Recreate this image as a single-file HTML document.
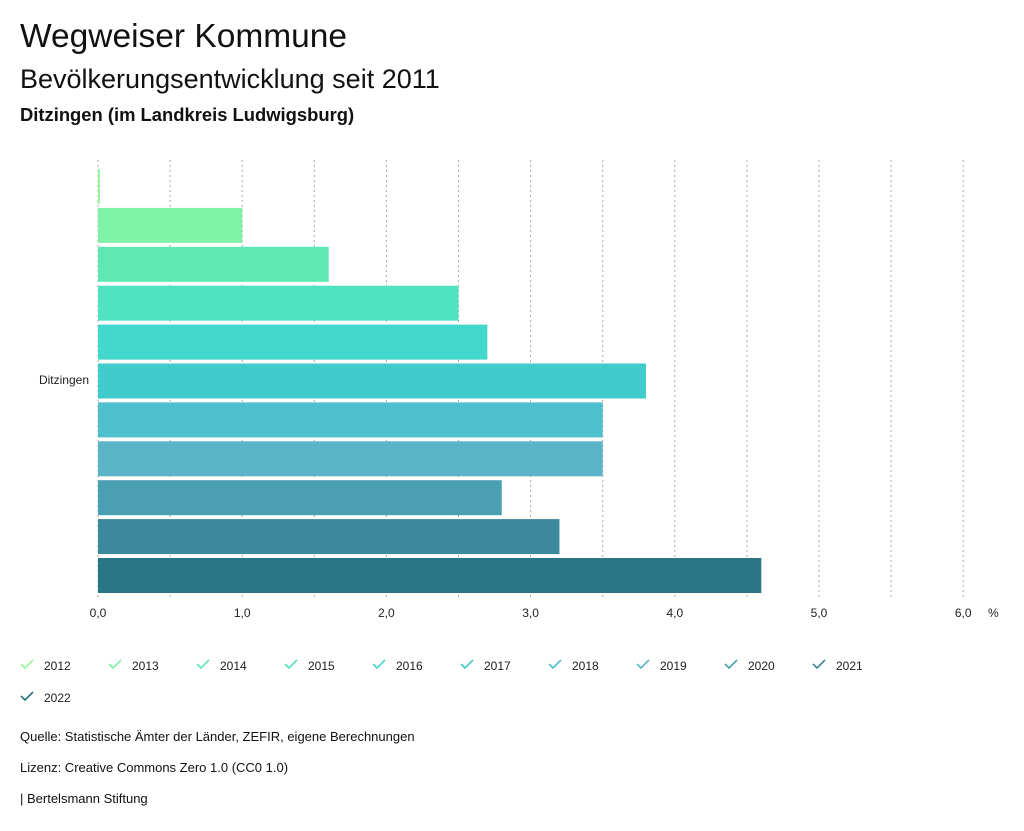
<!DOCTYPE html>
<html><head><meta charset="utf-8"><style>
body{margin:0;width:1024px;height:831px;background:#fff;font-family:"Liberation Sans",sans-serif;color:#111;position:relative;overflow:hidden}
.t{position:absolute;left:20px;white-space:nowrap}
</style></head><body>
<div class="t" style="top:18px;font-size:33.5px">Wegweiser Kommune</div>
<div class="t" style="top:64px;font-size:27px">Bevölkerungsentwicklung seit 2011</div>
<div class="t" style="top:104px;font-size:18.4px;font-weight:bold">Ditzingen (im Landkreis Ludwigsburg)</div>
<svg id="chart" width="1024" height="831" style="position:absolute;left:0;top:0" font-family="Liberation Sans, sans-serif"></svg>
<div class="t" style="top:729px;font-size:13px">Quelle: Statistische Ämter der Länder, ZEFIR, eigene Berechnungen</div>
<div class="t" style="top:760px;font-size:13px">Lizenz: Creative Commons Zero 1.0 (CC0 1.0)</div>
<div class="t" style="top:791px;font-size:13px">| Bertelsmann Stiftung</div>
<script>
const years=["2012","2013","2014","2015","2016","2017","2018","2019","2020","2021","2022"];
const values=[0.01,1.0,1.6,2.5,2.7,3.8,3.5,3.5,2.8,3.2,4.6];
const colors=["#98f59c","#7ef2a6","#5fe8b4","#50e3c2","#42d8cb","#40cbcc","#4dbfcd","#5cb4c9","#4a9fb2","#3b899b","#287585"];
const ticks=[0,1,2,3,4,5,6];
const ns="http://www.w3.org/2000/svg",svg=document.getElementById("chart");
const x=v=>98+v*144.2, y=i=>169+i*38.9;
function mk(t,a){const e=document.createElementNS(ns,t);for(const k in a)e.setAttribute(k,a[k]);svg.appendChild(e);return e;}
for(let g=0;g<=13;g++){const v=g*0.5;
const l=mk("line",{x1:x(v),x2:x(v),y1:160,y2:600,stroke:"#aaa","stroke-dasharray":"2,3"});

}
ticks.forEach(t=>{const e=mk("text",{x:x(t),y:617,"font-size":12,"text-anchor":"middle",fill:"#222"});e.textContent=t.toFixed(1).replace(".",",");

});
const u=mk("text",{x:988,y:617,"font-size":12,fill:"#222"});u.textContent="%";


const cl=mk("text",{x:89,y:384,"font-size":12,"text-anchor":"end",fill:"#222"});cl.textContent="Ditzingen";


values.forEach((v,i)=>{const r=mk("rect",{x:x(0),y:y(i),width:Math.max(x(v)-x(0),2),height:35,fill:colors[i]});

});
years.forEach((yr,i)=>{const lx=20+(i%10)*88,ly=665+Math.floor(i/10)*32;
const p=mk("path",{d:`M${lx+1} ${ly-1} l4 4 l8 -8`,stroke:colors[i],"stroke-width":1.6,fill:"none"});


const t=mk("text",{x:lx+24,y:ly+5,"font-size":12,fill:"#222"});t.textContent=yr;

});
</script>
</body></html>
